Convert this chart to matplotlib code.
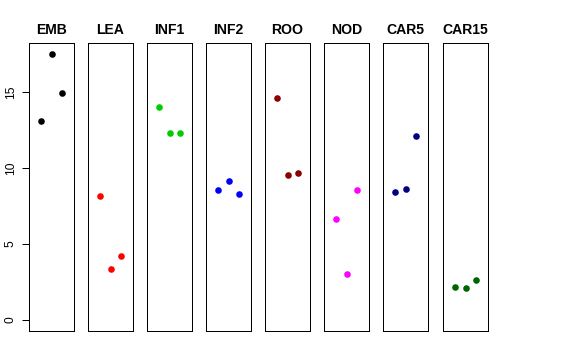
import matplotlib
matplotlib.use("Agg")
import matplotlib.pyplot as plt

plt.rcParams['font.family'] = ['Liberation Sans', 'DejaVu Sans']

tissues = ["EMB", "LEA", "INF1", "INF2", "ROO", "NOD", "CAR5", "CAR15"]
colors = ["black", "red", "#00CD00", "blue", "#8B0000", "magenta", "#000080", "#006400"]
replicate = [1, 2, 3]

# expression per tissue, three replicates each
emb = [13.07, 17.52, 14.91]
lea = [8.14, 3.38, 4.21]
inf1 = [14.04, 12.32, 12.28]
inf2 = [8.55, 9.14, 8.27]
roo = [14.60, 9.54, 9.65]
nod = [6.62, 3.05, 8.57]
car5 = [8.44, 8.64, 12.13]
car15 = [2.15, 2.08, 2.63]
values = [emb, lea, inf1, inf2, roo, nod, car5, car15]

yticks = [0, 5, 10, 15]

W, H = 576, 360
fig = plt.figure(figsize=(W / 72, H / 72), dpi=72)

panel_left = [29, 88, 147, 206, 265, 324, 383, 443]
panel_w = 45
top_px, bottom_px = 43, 331

for i, name in enumerate(tissues):
    ax = fig.add_axes([panel_left[i] / W, (H - bottom_px) / H,
                       panel_w / W, (bottom_px - top_px) / H])
    ax.plot(replicate, values[i], 'o', color=colors[i], ms=6.6, mec='none')
    ax.set_xlim(-0.16, 4.16)
    ax.set_ylim(-0.72, 18.22)
    ax.set_xticks([])
    for s in ax.spines.values():
        s.set_linewidth(1)
    ax.set_title(name, fontsize=14, fontweight='bold', pad=9)
    if i == 0:
        ax.set_yticks(yticks)
        ax.tick_params(axis='y', length=7, pad=5, labelsize=12, labelrotation=90, width=1)
        for lab in ax.get_yticklabels():
            lab.set_va('center')
    else:
        ax.set_yticks([])

fig.savefig("out.png", dpi=72)
